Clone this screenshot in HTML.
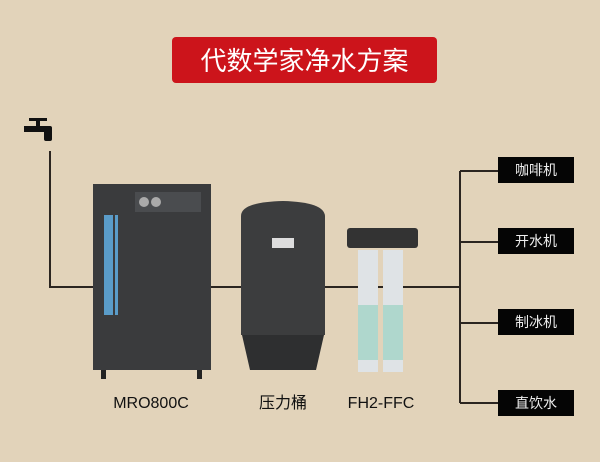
<!DOCTYPE html>
<html><head><meta charset="utf-8"><style>
body{margin:0;width:600px;height:462px;background:#e2d3ba;overflow:hidden;position:relative;font-family:"Liberation Sans","Noto Sans CJK SC",sans-serif}
.a{position:absolute}
.box{position:absolute;left:498px;width:76px;height:26px;background:#050505;color:#eee;font-size:14px;line-height:26px;text-align:center}
.lbl{position:absolute;font-size:16px;color:#111;text-align:center;width:100px;line-height:20px;height:20px}
</style></head><body>
<div class="a" style="left:172px;top:37px;width:265px;height:46px;background:#cc141b;border-radius:4px;color:#fff;font-size:26px;line-height:46px;text-align:center;font-family:'Noto Sans CJK SC',sans-serif">代数学家净水方案</div>
<svg class="a" style="left:0;top:0" width="600" height="462">
<g fill="#111"><rect x="29" y="118" width="18" height="3"/><rect x="36" y="118" width="4" height="10"/><rect x="24" y="126" width="24" height="6"/><rect x="44" y="126" width="8" height="15" rx="2"/></g>
<g stroke="#2b2520" stroke-width="2" fill="none">
<path d="M50 151V287H460"/><path d="M460 171V403"/>
<path d="M460 171H498M460 242H498M460 323H498M460 403H498"/></g>
<rect x="93" y="184" width="118" height="186" fill="#3a3b3d"/>
<rect x="135" y="192" width="66" height="20" fill="#4a4c4f"/>
<circle cx="144" cy="202" r="5" fill="#aaa"/><circle cx="156" cy="202" r="5" fill="#aaa"/>
<rect x="104" y="215" width="9" height="100" fill="#5a9cc9"/><rect x="115" y="215" width="3" height="100" fill="#5a9cc9"/>
<rect x="101" y="370" width="5" height="9" fill="#222"/><rect x="197" y="370" width="5" height="9" fill="#222"/>
<path d="M241 216Q241 202 283 201Q324 202 325 216V335H241Z" fill="#3c3d3e"/>
<path d="M242 335H324L316 370H250Z" fill="#2e2f30"/>
<rect x="272" y="238" width="22" height="10" fill="#ddd"/>
<rect x="347" y="228" width="71" height="20" rx="3" fill="#333"/>
<rect x="358" y="250" width="20" height="122" fill="#dfe3e6"/><rect x="383" y="250" width="20" height="122" fill="#dfe3e6"/>
<rect x="358" y="305" width="20" height="55" fill="#8fcfbd" opacity=".6"/><rect x="383" y="305" width="20" height="55" fill="#8fcfbd" opacity=".6"/>
</svg>
<div class="box" style="top:157px">咖啡机</div>
<div class="box" style="top:228px">开水机</div>
<div class="box" style="top:309px">制冰机</div>
<div class="box" style="top:390px">直饮水</div>
<div class="lbl" style="left:101px;top:394px">MRO800C</div>
<div class="lbl" style="left:233px;top:394px">压力桶</div>
<div class="lbl" style="left:331px;top:394px">FH2-FFC</div>
</body></html>
